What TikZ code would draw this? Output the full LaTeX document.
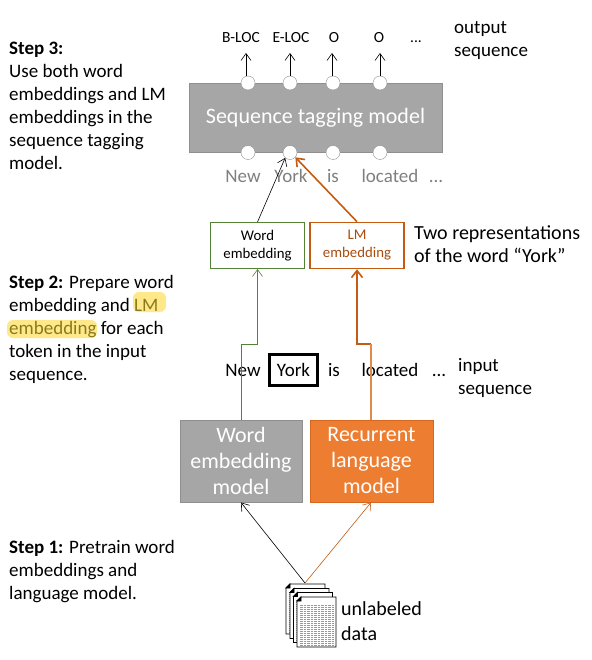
\documentclass[tikz,border=0pt]{standalone}
\usepackage{fontspec}
\setmainfont{Carlito}
\usetikzlibrary{arrows.meta,positioning}
\definecolor{boxgray}{HTML}{A6A6A6}
\definecolor{boxline}{HTML}{8F8F8F}
\definecolor{orfill}{HTML}{ED7D31}
\definecolor{orline}{HTML}{C55A11}
\definecolor{orthin}{HTML}{E08A4E}
\definecolor{grline}{HTML}{548235}
\definecolor{wordgray}{HTML}{7F7F7F}
\definecolor{hilite}{HTML}{FFE88A}
\definecolor{hitext}{HTML}{8A7A1E}
\tikzset{
  x=1pt,y=-1pt,
  lbl/.style={inner sep=0pt,font=\fontsize{19}{23}\selectfont},
  para/.style={lbl,anchor=north west,align=left},
  wrd/.style={lbl,anchor=base},
  ggwrd/.style={wrd,text=wordgray},
  tag/.style={inner sep=0pt,anchor=base,font=\fontsize{15.5}{16}\selectfont},
  port/.style={circle,fill=white,draw=boxline,line width=0.4pt,minimum size=14pt,inner sep=0pt},
  bigbox/.style={draw=boxline,line width=1pt,fill=boxgray,text=white,align=center,inner sep=0pt,
    font=\fontsize{22}{26}\selectfont},
  emb/.style={fill=white,align=center,inner sep=0pt,minimum height=46pt,
    font=\fontsize{14.8}{18}\selectfont},
  ar/.style={-{Straight Barb[length=7pt,width=10pt,line width=0.6pt]},line width=0.6pt},
  thickar/.style={-{Straight Barb[length=7pt,width=11pt,line width=1.6pt]},line width=1.6pt,draw=orline},
  page/.style={draw=black,fill=white,line width=0.9pt},
  pagetext/.style={draw=black!40,line width=0.3pt,dash pattern=on 0.8pt off 0.6pt},
}
\newcommand{\docpage}[2]{%
  \draw[page] (#1+4,#2) -- (#1+39,#2) -- (#1+39,#2+50) -- (#1,#2+50) -- (#1,#2+4) -- cycle;
  \draw[page,fill=black] (#1,#2+4) -- (#1+4,#2+4) -- (#1+4,#2) -- cycle;
  \foreach \k in {8,10,...,48}{\draw[pagetext] (#1+2.5,#2+\k) -- (#1+37,#2+\k);}
}
\begin{document}
\begin{tikzpicture}
\useasboundingbox (0,0) rectangle (591,660);
% highlights
\fill[hilite,rounded corners=6pt] (133,292) rectangle (166,312);
\fill[hilite,rounded corners=6pt] (7,320) rectangle (97,338);
% left text
\node[para] (s3) at (9,42) {\textbf{Step 3:}\\Use both word\\embeddings and LM\\embeddings in the\\sequence tagging\\model.};
\node[para] (s2) at (9,275.5) {\textbf{Step 2:} Prepare word\\embedding and \textcolor{hitext}{LM}\\\textcolor{hitext}{embedding} for each\\token in the input\\sequence.};
\node[para] (s1) at (9,540.5) {\textbf{Step 1:} Pretrain word\\embeddings and\\language model.};
% right text
\node[para] (outl) at (454,21) {output\\sequence};
\node[para,font=\fontsize{20}{23}\selectfont] (twol) at (414,225) {Two representations\\of the word “York”};
\node[para] (inl) at (458,358) {input\\sequence};
\node[para,font=\fontsize{20}{25}\selectfont] (unl) at (341,601) {unlabeled\\data};
% sequence model
\node[bigbox,minimum width=253pt,minimum height=69pt] (seq) at (315.5,118) {Sequence tagging model};
\foreach \n/\x in {1/248,2/290,3/333,4/380}{
  \node[port] (t\n) at (\x,83) {};
  \node[port] (b\n) at (\x,152.5) {};
}
% output tags
\node[tag] (o1) at (241,43) {B-LOC};
\node[tag] (o2) at (291,43) {E-LOC};
\node[tag] (o3) at (334,43) {O};
\node[tag] (o4) at (379,43) {O};
\node[tag] (o5) at (416,43) {...};
\coordinate (e1) at (246,53);
\coordinate (e2) at (290,53);
\coordinate (e3) at (332,53);
\coordinate (e4) at (380,53);
\draw[ar] (t1.north -| e1) -- (e1);
\draw[ar] (t2.north) -- (e2);
\draw[ar] (t3.north -| e3) -- (e3);
\draw[ar] (t4.north) -- (e4);
% gray words
\node[ggwrd] (g1) at (243,183) {New};
\node[ggwrd] (g2) at (291,183) {York};
\node[ggwrd] (g3) at (333,183) {is};
\node[ggwrd] (g4) at (390,183) {located};
\node[ggwrd] (g5) at (436,183) {...};
% embeddings
\node[emb,draw=grline,line width=1pt,minimum width=94pt] (we) at (257.5,245.5) {Word\\embedding};
\node[emb,draw=orline,line width=1.6pt,minimum width=94.5pt,text=orline!85!black] (lm) at (357,245.5) {LM\\embedding};
\draw[ar] (we.north) -- (b2.228);
\draw[thickar] (lm.north) -- (b2.-42);
% input words
\node[wrd] (i1) at (243,376) {New};
\node[wrd,draw=black,line width=3pt,minimum width=48pt,minimum height=31pt,anchor=center] (i2) at (293.5,370) {York};
\node[wrd] (i3) at (334,376) {is};
\node[wrd] (i4) at (390,376) {located};
\node[wrd] (i5) at (439,376) {...};
% models
\node[bigbox,minimum width=122pt,minimum height=82pt] (wm) at (241,461) {Word\\embedding\\model};
\node[bigbox,draw=orline!60!orfill,fill=orfill,minimum width=123pt,minimum height=82pt] (rm) at (371.5,461) {Recurrent\\language\\model};
\coordinate (wbend) at (241,344);
\coordinate (lbend) at (371,344);
\draw[ar,draw=grline] (wm.north -| wbend) -- (wbend) -| (we.south);
\draw[thickar] (lbend) -| (lm.south);
\draw[draw=orthin,line width=1.2pt] (rm.north -| lbend) -- (lbend);
% documents
\docpage{286}{584}
\docpage{290}{588.5}
\docpage{293.5}{592.5}
\docpage{297}{597}
\coordinate (docs) at (305,583);
\draw[ar] (docs) -- (wm.south);
\draw[ar,draw=orline] (docs) -- (rm.south -| lbend);
\end{tikzpicture}
\end{document}
